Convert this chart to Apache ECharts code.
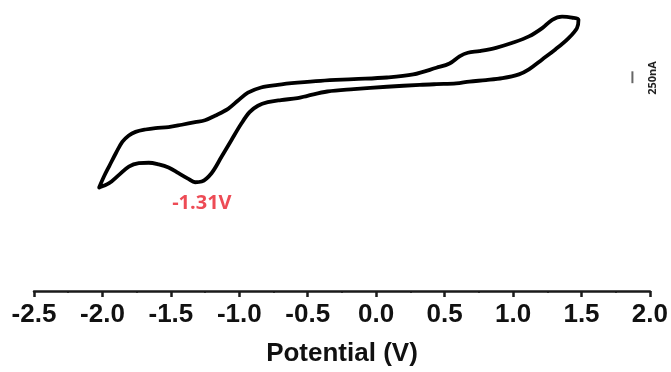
<!DOCTYPE html>
<html>
<head>
<meta charset="utf-8">
<script src="https://cdn.jsdelivr.net/npm/echarts@6/dist/echarts.min.js"></script>
<style>
  html, body { margin: 0; padding: 0; background: #ffffff; }
  #chart { width: 671px; height: 372px; }
</style>
</head>
<body>
<div id="chart"></div>
<script>
// Forward (upper) branch: potential (V) and current (nA), from -2.02 V vertex to +1.48 V tip
var forwardPotential = [-2.024, -1.988, -1.951, -1.903, -1.855, -1.807, -1.758, -1.686, -1.613, -1.517,
  -1.420, -1.323, -1.251, -1.178, -1.082, -1.009, -0.937, -0.841, -0.720, -0.575,
  -0.406, -0.164, 0.078, 0.271, 0.440, 0.536, 0.609, 0.670, 0.754, 0.875,
  0.996, 1.116, 1.213, 1.286, 1.358, 1.430, 1.478];
var forwardCurrent = [180, 415, 625, 895, 1140, 1275, 1350, 1400, 1430, 1450,
  1500, 1555, 1595, 1690, 1835, 2010, 2175, 2285, 2340, 2385,
  2425, 2460, 2495, 2560, 2700, 2790, 2940, 3015, 3050, 3120,
  3225, 3360, 3535, 3710, 3775, 3755, 3710];

// Reverse (lower) branch: from the +1.47 V tip back to the -2.02 V vertex
var reversePotential = [1.467, 1.406, 1.309, 1.213, 1.116, 1.043, 0.923, 0.802, 0.681, 0.585,
  0.440, 0.319, 0.078, -0.164, -0.357, -0.502, -0.575, -0.696, -0.792, -0.864,
  -0.925, -0.986, -1.058, -1.130, -1.203, -1.275, -1.323, -1.372, -1.444, -1.517,
  -1.589, -1.662, -1.734, -1.807, -1.879, -1.951, -2.024];
var reverseCurrent = [3535, 3325, 3085, 2875, 2665, 2560, 2480, 2440, 2410, 2370,
  2355, 2340, 2300, 2250, 2200, 2110, 2060, 2020, 1975, 1900,
  1765, 1520, 1175, 825, 480, 305, 290, 360, 480, 600,
  665, 700, 690, 620, 445, 270, 180];

// Axis ticks
var xTicks = [-2.5, -2.0, -1.5, -1.0, -0.5, 0.0, 0.5, 1.0, 1.5, 2.0];
var xAxisTitle = 'Potential (V)';

// Peak annotation
var peakPotential = -1.31;
var peakCurrent = 290;
var peakLabel = '-1.31V';

// Scale bar (250 nA)
var scaleBarPotential = 1.872;
var scaleBarCurrent = [2375, 2625];
var scaleBarLabel = '250nA';

var loop = [];
for (var i = 0; i < forwardPotential.length; i++) loop.push([forwardPotential[i], forwardCurrent[i]]);
for (var j = 0; j < reversePotential.length; j++) loop.push([reversePotential[j], reverseCurrent[j]]);

var chart = echarts.init(document.getElementById('chart'), null, { renderer: 'canvas' });

var option = {
  backgroundColor: '#ffffff',
  animation: false,
  grid: { left: 34, right: 16, top: 6, bottom: 78, containLabel: false },
  xAxis: {
    type: 'value',
    min: xTicks[0],
    max: xTicks[xTicks.length - 1],
    interval: 0.5,
    name: xAxisTitle,
    nameLocation: 'middle',
    nameGap: 50,
    nameTextStyle: { fontFamily: 'Liberation Sans', fontWeight: 'bold', fontSize: 26, color: '#111' },
    axisLine: { show: true, onZero: false, lineStyle: { color: '#1a1a1a', width: 2.5 } },
    axisTick: { show: true, length: 6, lineStyle: { color: '#1a1a1a', width: 2.5 } },
    minorTick: { show: true, splitNumber: 2, length: 2, lineStyle: { color: '#1a1a1a', width: 1.5 } },
    splitLine: { show: false },
    axisLabel: {
      margin: 11,
      fontFamily: 'Liberation Sans', fontWeight: 'bold', fontSize: 26, color: '#111',
      showMinLabel: true, showMaxLabel: true,
      formatter: function (v) { return v.toFixed(1); }
    }
  },
  yAxis: {
    type: 'value', min: -2000, max: 4000, show: false
  },
  series: [
    {
      type: 'line',
      data: loop,
      smooth: 0.35,
      symbol: 'none',
      lineStyle: { color: '#000000', width: 3.8, cap: 'round', join: 'round' },
      z: 3
    },
    {
      type: 'line',
      data: [[scaleBarPotential, scaleBarCurrent[0]], [scaleBarPotential, scaleBarCurrent[1]]],
      symbol: 'none',
      lineStyle: { color: '#666666', width: 2 }
    },
    {
      type: 'scatter',
      data: [[peakPotential, peakCurrent]],
      symbolSize: 1,
      itemStyle: { color: 'transparent' },
      label: {
        show: true,
        position: 'inside',
        offset: [5, 21],
        formatter: peakLabel,
        fontFamily: 'Open Sans', fontWeight: 'bold', fontSize: 20, color: '#e81e2b'
      }
    }
  ],
  graphic: [
    {
      type: 'text',
      x: 652.5, y: 78,
      rotation: Math.PI / 2,
      style: {
        text: scaleBarLabel,
        fontFamily: 'Open Sans', fontWeight: 'bold', fontSize: 11,
        fill: '#222', align: 'center', verticalAlign: 'middle'
      }
    }
  ]
};
chart.setOption(option);
</script>
</body>
</html>
